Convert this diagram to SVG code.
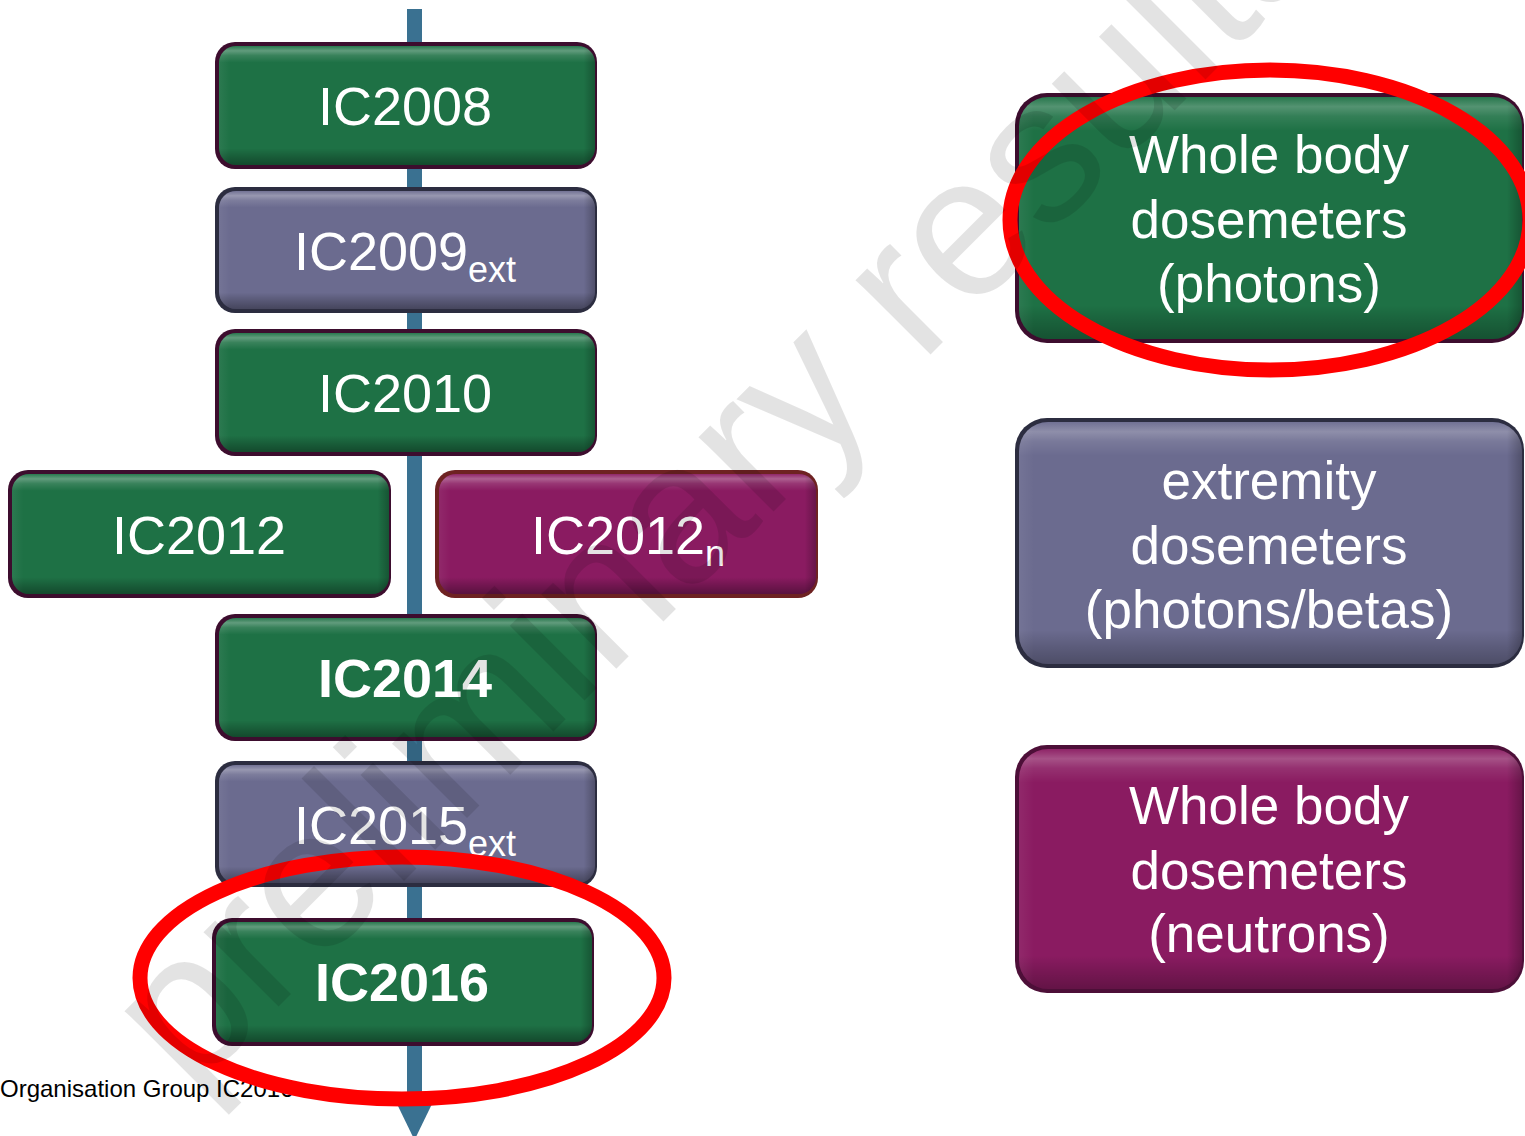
<svg xmlns="http://www.w3.org/2000/svg" width="1525" height="1136" viewBox="0 0 1525 1136">
<style>
  .lbl { font-family: "Liberation Sans", Arial, sans-serif; fill: #ffffff; text-anchor: middle; }
  .yr { font-size: 54px; }
  .yrb { font-size: 54px; font-weight: bold; }
  .sub { font-size: 36px; }
  .big { font-size: 53px; }
  .green { fill: #1e7145; }
  .slate { fill: #6b6b8f; }
  .mag { fill: #8a1b61; }
  .bd-green { fill: #3d0d2e; }
  .bd-slate { fill: #2c2d40; }
  .bd-mag { fill: #4d0f38; }
  .bd-red { fill: #6e2222; }
  .bevel { fill: url(#bevel); }
  .side { fill: url(#side); }
  .ring { fill: none; stroke: #ff0000; stroke-width: 15; }
  .wm { font-family: "Liberation Sans", Arial, sans-serif; font-size: 200px; fill: #000000; fill-opacity: 0.11; }
  .foot { font-family: "Liberation Sans", Arial, sans-serif; font-size: 24px; fill: #000000; }
</style>
<defs>
  <linearGradient id="bevel" x1="0" y1="0" x2="0" y2="1">
    <stop offset="0" stop-color="#ffffff" stop-opacity="0.05"/>
    <stop offset="0.04" stop-color="#ffffff" stop-opacity="0.30"/>
    <stop offset="0.08" stop-color="#ffffff" stop-opacity="0.12"/>
    <stop offset="0.14" stop-color="#ffffff" stop-opacity="0"/>
    <stop offset="0.86" stop-color="#000000" stop-opacity="0"/>
    <stop offset="0.93" stop-color="#000000" stop-opacity="0.18"/>
    <stop offset="1" stop-color="#000000" stop-opacity="0.35"/>
  </linearGradient>
  <linearGradient id="side" x1="0" y1="0" x2="1" y2="0">
    <stop offset="0" stop-color="#ffffff" stop-opacity="0.06"/>
    <stop offset="0.03" stop-color="#ffffff" stop-opacity="0"/>
    <stop offset="0.97" stop-color="#000000" stop-opacity="0"/>
    <stop offset="1" stop-color="#000000" stop-opacity="0.25"/>
  </linearGradient>
  <marker id="arrow" markerUnits="userSpaceOnUse" markerWidth="40" markerHeight="40" refX="0" refY="0" orient="auto" overflow="visible">
    <path d="M0,-17 L35,0 L0,17 Z" fill="#3a7191"/>
  </marker>
</defs>

<g id="connectors">
  <line x1="414.5" y1="9" x2="414.5" y2="1105" stroke="#3a7191" stroke-width="15" marker-end="url(#arrow)"/>
</g>

<g id="IC2008">
  <rect class="bd-green" x="215" y="42" width="382" height="127" rx="20"/>
  <rect class="green" x="219" y="46" width="376" height="119" rx="17"/>
  <rect class="bevel" x="219" y="46" width="376" height="119" rx="17"/>
  <rect class="side" x="219" y="46" width="376" height="119" rx="17"/>
  <text class="lbl yr" x="405" y="125">IC2008</text>
</g>

<g id="IC2009ext">
  <rect class="bd-slate" x="215" y="187" width="382" height="126" rx="20"/>
  <rect class="slate" x="219" y="191" width="376" height="118" rx="17"/>
  <rect class="bevel" x="219" y="191" width="376" height="118" rx="17"/>
  <rect class="side" x="219" y="191" width="376" height="118" rx="17"/>
  <text class="lbl yr" x="405" y="270">IC2009<tspan class="sub" dy="12">ext</tspan></text>
</g>

<g id="IC2010">
  <rect class="bd-green" x="215" y="329" width="382" height="127" rx="20"/>
  <rect class="green" x="219" y="333" width="376" height="119" rx="17"/>
  <rect class="bevel" x="219" y="333" width="376" height="119" rx="17"/>
  <rect class="side" x="219" y="333" width="376" height="119" rx="17"/>
  <text class="lbl yr" x="405" y="412">IC2010</text>
</g>

<g id="IC2012">
  <rect class="bd-green" x="8" y="470" width="383" height="128" rx="20"/>
  <rect class="green" x="12" y="474" width="377" height="120" rx="17"/>
  <rect class="bevel" x="12" y="474" width="377" height="120" rx="17"/>
  <rect class="side" x="12" y="474" width="377" height="120" rx="17"/>
  <text class="lbl yr" x="199" y="554">IC2012</text>
</g>

<g id="IC2012n">
  <rect class="bd-red" x="435" y="470" width="383" height="128" rx="20"/>
  <rect class="mag" x="439" y="474" width="377" height="120" rx="17"/>
  <rect class="bevel" x="439" y="474" width="377" height="120" rx="17"/>
  <rect class="side" x="439" y="474" width="377" height="120" rx="17"/>
  <text class="lbl yr" x="628" y="554">IC2012<tspan class="sub" dy="12">n</tspan></text>
</g>

<g id="IC2014">
  <rect class="bd-green" x="215" y="614" width="382" height="127" rx="20"/>
  <rect class="green" x="219" y="618" width="376" height="119" rx="17"/>
  <rect class="bevel" x="219" y="618" width="376" height="119" rx="17"/>
  <rect class="side" x="219" y="618" width="376" height="119" rx="17"/>
  <text class="lbl yrb" x="405" y="697">IC2014</text>
</g>

<g id="IC2015ext">
  <rect class="bd-slate" x="215" y="761" width="382" height="126" rx="20"/>
  <rect class="slate" x="219" y="765" width="376" height="118" rx="17"/>
  <rect class="bevel" x="219" y="765" width="376" height="118" rx="17"/>
  <rect class="side" x="219" y="765" width="376" height="118" rx="17"/>
  <text class="lbl yr" x="405" y="844">IC2015<tspan class="sub" dy="12">ext</tspan></text>
</g>

<g id="IC2016">
  <rect class="bd-green" x="212" y="918" width="382" height="128" rx="20"/>
  <rect class="green" x="216" y="922" width="376" height="120" rx="17"/>
  <rect class="bevel" x="216" y="922" width="376" height="120" rx="17"/>
  <rect class="side" x="216" y="922" width="376" height="120" rx="17"/>
  <text class="lbl yrb" x="402" y="1001">IC2016</text>
</g>

<g id="wb-photons">
  <rect class="bd-green" x="1015" y="93" width="509" height="250" rx="32"/>
  <rect class="green" x="1019" y="97" width="503" height="242" rx="29"/>
  <rect class="bevel" x="1019" y="97" width="503" height="242" rx="29" opacity="0.8"/>
  <rect class="side" x="1019" y="97" width="503" height="242" rx="29"/>
  <text class="lbl big" x="1269" y="173">Whole body</text>
  <text class="lbl big" x="1269" y="238">dosemeters</text>
  <text class="lbl big" x="1269" y="302">(photons)</text>
</g>

<g id="extremity">
  <rect class="bd-slate" x="1015" y="418" width="509" height="250" rx="32"/>
  <rect class="slate" x="1019" y="422" width="503" height="242" rx="29"/>
  <rect class="bevel" x="1019" y="422" width="503" height="242" rx="29" opacity="0.8"/>
  <rect class="side" x="1019" y="422" width="503" height="242" rx="29"/>
  <text class="lbl big" x="1269" y="499">extremity</text>
  <text class="lbl big" x="1269" y="564">dosemeters</text>
  <text class="lbl big" x="1269" y="628">(photons/betas)</text>
</g>

<g id="wb-neutrons">
  <rect class="bd-mag" x="1015" y="745" width="509" height="248" rx="32"/>
  <rect class="mag" x="1019" y="749" width="503" height="240" rx="29"/>
  <rect class="bevel" x="1019" y="749" width="503" height="240" rx="29" opacity="0.8"/>
  <rect class="side" x="1019" y="749" width="503" height="240" rx="29"/>
  <text class="lbl big" x="1269" y="824">Whole body</text>
  <text class="lbl big" x="1269" y="889">dosemeters</text>
  <text class="lbl big" x="1269" y="952">(neutrons)</text>
</g>

<text class="foot" x="0" y="1097">Organisation Group IC2016</text>

<g id="highlights">
  <ellipse class="ring" cx="1270" cy="220" rx="260" ry="150"/>
  <ellipse class="ring" cx="402" cy="978" rx="262" ry="121"/>
</g>

<text class="wm" transform="translate(190,1095) rotate(-45)">preliminary results</text>
</svg>
